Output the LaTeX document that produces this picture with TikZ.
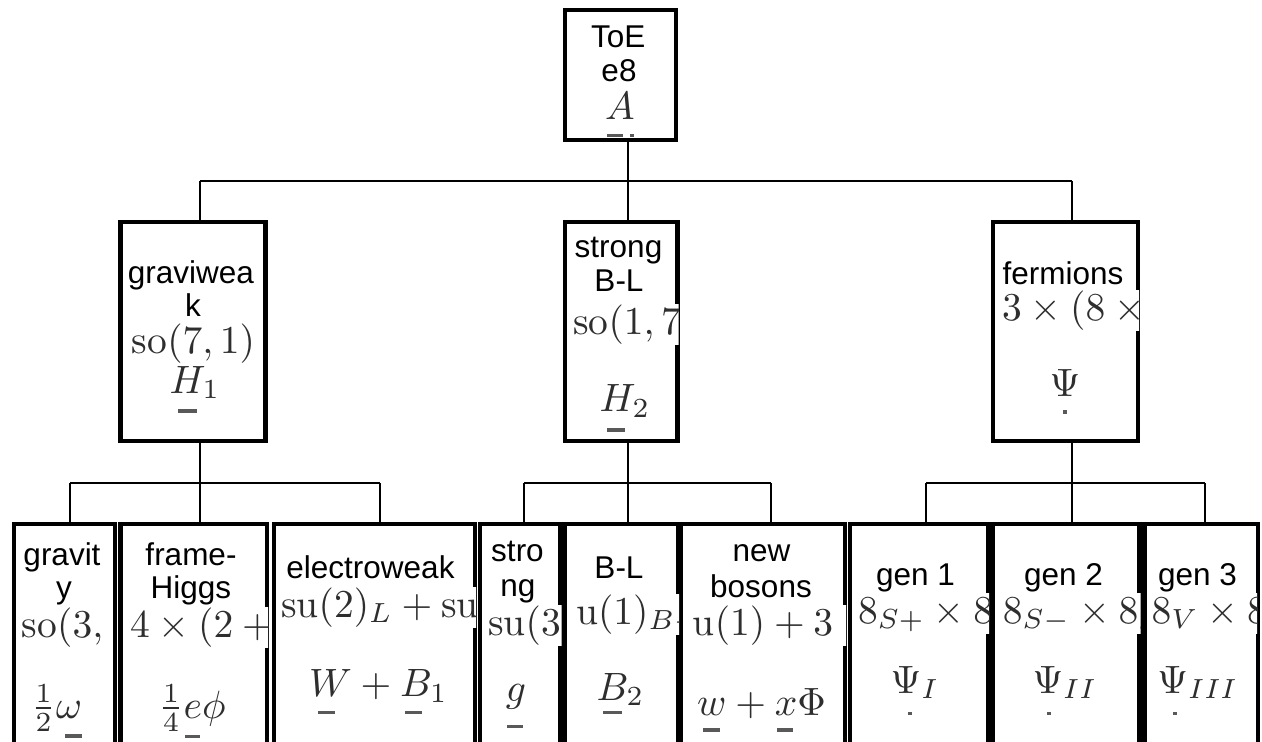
\documentclass[tikz,border=0pt]{standalone}
\usepackage{amsmath}
\usepackage{fontspec}
\newfontfamily\arialf{Liberation Sans}
\newcommand\labfont{\arialf\fontsize{31.5}{36}\selectfont}
\newcommand\M[1]{\scalebox{3.95}{$#1$}}
\tikzset{
  box/.style={draw, line width=4.5pt, fill=white, inner sep=0pt},
  conn/.style={line width=2pt},
  lbl/.style={font=\labfont, anchor=base, inner sep=0pt},
  mth/.style={anchor=base west, inner sep=0pt, fill=white, text=black!82, text height=30pt, text depth=11pt},
  mc/.style={anchor=base, inner sep=0pt, text=black!82},
  uline/.style={fill=black!65}
}
\begin{document}
\begin{tikzpicture}[x=1pt,y=-1pt]
\path[use as bounding box] (0,0) rectangle (1262,742);
\clip (0,0) rectangle (1262,742);

% ---------- boxes ----------
\node[box, minimum width=111pt, minimum height=130pt] (toe) at (620.5,75) {};
\node[box, minimum width=145pt, minimum height=219pt] (gw) at (193,331.5) {};
\node[box, minimum width=112.5pt, minimum height=219pt] (sb) at (621.25,331.5) {};
\node[box, minimum width=145pt, minimum height=219pt] (fe) at (1065.5,331.5) {};
\node[box, minimum width=101pt, minimum height=246pt] (gr) at (64.5,647) {};
\node[box, minimum width=146.5pt, minimum height=246pt] (fh) at (193.75,647) {};
\node[box, minimum width=201pt, minimum height=246pt] (ew) at (374.5,647) {};
\node[box, minimum width=80.5pt, minimum height=246pt] (st) at (520.25,647) {};
\node[box, minimum width=113pt, minimum height=246pt] (bl) at (621.5,647) {};
\node[box, minimum width=164pt, minimum height=246pt] (nb) at (763,647) {};
\node[box, minimum width=138pt, minimum height=246pt] (ga) at (919,647) {};
\node[box, minimum width=147pt, minimum height=246pt] (gb) at (1066,647) {};
\node[box, minimum width=113.5pt, minimum height=246pt] (gc) at (1201.25,647) {};

% ---------- connectors ----------
\coordinate (bus0) at (628,181);
\coordinate (b0l) at (200,181);
\coordinate (b0r) at (1072,181);
\draw[conn] (toe.south -| bus0) -- (bus0);
\draw[conn] (b0l) -- (b0r);
\draw[conn] (b0l) -- (b0l |- gw.north);
\draw[conn] (bus0) -- (bus0 |- sb.north);
\draw[conn] (b0r) -- (b0r |- fe.north);

\coordinate (b1) at (200,483);
\coordinate (b1l) at (70,483);
\coordinate (b1r) at (380,483);
\draw[conn] (b1 |- gw.south) -- (b1);
\draw[conn] (b1l) -- (b1r);
\draw[conn] (b1l) -- (b1l |- gr.north);
\draw[conn] (b1) -- (b1 |- fh.north);
\draw[conn] (b1r) -- (b1r |- ew.north);

\coordinate (b2) at (628,483);
\coordinate (b2l) at (524,483);
\coordinate (b2r) at (771,483);
\draw[conn] (b2 |- sb.south) -- (b2);
\draw[conn] (b2l) -- (b2r);
\draw[conn] (b2l) -- (b2l |- st.north);
\draw[conn] (b2) -- (b2 |- bl.north);
\draw[conn] (b2r) -- (b2r |- nb.north);

\coordinate (b3) at (1072,483);
\coordinate (b3l) at (926,483);
\coordinate (b3r) at (1205,483);
\draw[conn] (b3 |- fe.south) -- (b3);
\draw[conn] (b3l) -- (b3r);
\draw[conn] (b3l) -- (b3l |- ga.north);
\draw[conn] (b3) -- (b3 |- gb.north);
\draw[conn] (b3r) -- (b3r |- gc.north);

% ---------- ToE ----------
\node[lbl] (toe-a) at (618.3,47.7) {ToE};
\node[lbl] (toe-b) at (619,81) {e8};
\node[mc] (toe-c) at (620,119) {\M{A}};
\fill[uline] (607,134) rectangle (623,137);
\fill[uline] (630,134) rectangle (634,137);

% ---------- graviweak ----------
\begin{scope}
\clip (122.75,224.25) rectangle (264.5,438.75);
\node[lbl] (gw-a) at (191,283) {graviwea};
\node[lbl] (gw-b) at (193,316.7) {k};
\node[mc] (gw-c) at (193.5,353) {\M{\mathrm{so}(7,1)}};
\node[mc] (gw-d) at (195,393) {\M{H_1}};
\fill[uline] (178,409) rectangle (197,413);
\end{scope}

% ---------- strong B-L ----------
\begin{scope}
\clip (567.25,224.25) rectangle (678.5,438.75);
\node[lbl] (sb-a) at (618.5,257) {strong};
\node[lbl] (sb-b) at (619,291) {B-L};
\node[mth] (sb-c) at (573,334) {\M{\mathrm{so}(1,7)}};
\node[mc] (sb-d) at (625,411.7) {\M{H_2}};
\fill[uline] (607,428) rectangle (625,432);
\end{scope}

% ---------- fermions ----------
\begin{scope}
\clip (995.25,224.25) rectangle (1139,438.75);
\node[lbl] (fe-a) at (1063,284) {fermions};
\node[mth] (fe-c) at (1002,320) {\M{3\times(8\times 8_S+8\times 8_S)}};
\node[mc] (fe-d) at (1065,396.7) {\M{\Psi}};
\fill[uline] (1063,410) rectangle (1067,414);
\end{scope}

% ---------- gravity ----------
\begin{scope}
\clip (16.25,526.25) rectangle (112.5,742);
\node[lbl] (gr-a) at (62,565) {gravit};
\node[lbl] (gr-b) at (64,598) {y};
\node[mth] (gr-c) at (21.7,637) {\M{\mathrm{so}(3,1)}};
\node[mc] (gr-d) at (56.5,718) {\M{\tfrac12\omega}};
\fill[uline] (65,734) rectangle (82,738);
\end{scope}

% ---------- frame-Higgs ----------
\begin{scope}
\clip (122.75,526.25) rectangle (268,742);
\node[lbl] (fh-a) at (191,565) {frame-};
\node[lbl] (fh-b) at (191,598) {Higgs};
\node[mth] (fh-c) at (130,637) {\M{4\times(2+2)}};
\node[mc] (fh-d) at (192,718) {\M{\tfrac14e\phi}};
\fill[uline] (185,735) rectangle (200,738);
\end{scope}

% ---------- electroweak ----------
\begin{scope}
\clip (276.25,526.25) rectangle (476,742);
\node[lbl] (ew-a) at (370.5,578) {electroweak};
\node[mth] (ew-c) at (281,617) {\M{\mathrm{su}(2)_L+\mathrm{su}(2)_R}};
\node[mc] (ew-d) at (378.5,696.7) {\M{W+B_1}};
\fill[uline] (318,711) rectangle (335,714);
\fill[uline] (405,711) rectangle (422,714);
\end{scope}

% ---------- strong ----------
\begin{scope}
\clip (482.25,526.25) rectangle (561.5,742);
\node[lbl] (st-a) at (517.5,561) {stro};
\node[lbl] (st-b) at (518,596) {ng};
\node[mth] (st-c) at (488,635) {\M{\mathrm{su}(3)}};
\node[mc] (st-d) at (516,701) {\M{g}};
\fill[uline] (507,725) rectangle (523,728);
\end{scope}

% ---------- B-L ----------
\begin{scope}
\clip (567.25,526.25) rectangle (679,742);
\node[lbl] (bl-a) at (619,578) {B-L};
\node[mth] (bl-c) at (576,624) {\M{\mathrm{u}(1)_{B-L}}};
\node[mc] (bl-d) at (620.5,700) {\M{B_2}};
\fill[uline] (603,711) rectangle (622,714);
\end{scope}

% ---------- new bosons ----------
\begin{scope}
\clip (683.25,526.25) rectangle (846,742);
\node[lbl] (nb-a) at (761.5,561) {new};
\node[lbl] (nb-b) at (761,597) {bosons};
\node[mth] (nb-c) at (692.7,635) {\M{\mathrm{u}(1)+3\times 8}};
\node[mc] (nb-d) at (761.5,715) {\M{w+x\Phi}};
\fill[uline] (703,728) rectangle (720,732);
\fill[uline] (777,728) rectangle (793,732);
\end{scope}

% ---------- gen 1 ----------
\begin{scope}
\clip (852.25,526.25) rectangle (989,742);
\node[lbl] (ga-a) at (915.5,585) {gen 1};
\node[mth] (ga-c) at (858,623) {\M{8_{S+}\times 8_{S+}}};
\node[mc] (ga-d) at (915,693) {\M{\Psi_I}};
\fill[uline] (908,712) rectangle (912,715);
\end{scope}

% ---------- gen 2 ----------
\begin{scope}
\clip (994.75,526.25) rectangle (1140.5,742);
\node[lbl] (gb-a) at (1063.5,585) {gen 2};
\node[mth] (gb-c) at (1002.7,623) {\M{8_{S-}\times 8_{S-}}};
\node[mc] (gb-d) at (1065,693) {\M{\Psi_{II}}};
\fill[uline] (1047,712) rectangle (1051,715);
\end{scope}

% ---------- gen 3 ----------
\begin{scope}
\clip (1146.25,526.25) rectangle (1257,742);
\node[lbl] (gc-a) at (1197.5,585) {gen 3};
\node[mth] (gc-c) at (1151.5,623) {\M{8_V\times 8_V}};
\node[mc] (gc-d) at (1198,693) {\M{\Psi_{III}}};
\fill[uline] (1173,712) rectangle (1177,715);
\end{scope}
\end{tikzpicture}
\end{document}
